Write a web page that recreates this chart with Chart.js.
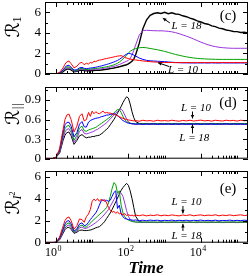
<!DOCTYPE html>
<html>
<head>
<meta charset="utf-8">
<script src="https://cdn.jsdelivr.net/npm/chart.js@4.4.0/dist/chart.umd.min.js"></script>
<style>
  html, body { margin: 0; padding: 0; background: #fff; }
  #wrap { position: relative; width: 249px; height: 276px; overflow: hidden; }
  canvas { position: absolute; left: 0; }
</style>
</head>
<body>
<div id="wrap">
  <canvas id="p1" width="249" height="87" style="top:0px"></canvas>
  <canvas id="p2" width="249" height="85" style="top:85px"></canvas>
  <canvas id="p3" width="249" height="107" style="top:169px"></canvas>
</div>
<script>
// time grid shared by all curves
const times = [0.5, 0.794, 1, 1.26, 1.58, 1.78, 2, 2.29, 2.63, 3.16,
  3.8, 4.47, 5.25, 6.03, 6.92, 7.94, 8.91, 10, 11.2, 12.6,
  14.1, 15.8, 17.8, 20, 22.4, 25.1, 28.2, 31.6, 35.5, 39.8,
  44.7, 50.1, 56.2, 63.1, 70.8, 79.4, 89.1, 100, 112, 126,
  141, 158, 200, 251, 316, 398, 501, 631, 794, 1000,
  1260, 1580, 2000, 2510, 3160, 3980, 5010, 6310, 7940, 10000,
  12600, 15800, 20000, 25100, 31600, 39800, 50100, 63100, 79400, 100000,
  126000, 158000, 200000];

// panel (c): R_1
const r1L10 = [0, 0, 0.02, 0.15, 0.6, 0.95, 1.18, 1.26, 1.0, 0.6,
  0.75, 1.05, 1.13, 0.9, 1.05, 0.95, 1.15, 1.05, 1.25, 1.2,
  1.3, 1.35, 1.38, 1.42, 1.48, 1.5, 1.55, 1.58, 1.62, 1.66,
  1.7, 1.74, 1.76, 1.78, 1.72, 1.6, 1.55, 1.5, 1.45, 1.42,
  1.38, 1.36, 1.32, 1.27, 1.23, 1.2, 1.17, 1.15, 1.13, 1.12,
  1.11, 1.12, 1.1, 1.11, 1.1, 1.12, 1.1, 1.11, 1.1, 1.12,
  1.11, 1.1, 1.12, 1.11, 1.1, 1.12, 1.11, 1.1, 1.11, 1.12,
  1.1, 1.11, 1.1];
const r1L12 = [0, 0, 0.01, 0.1, 0.4, 0.65, 0.8, 0.85, 0.65, 0.38,
  0.42, 0.6, 0.65, 0.55, 0.52, 0.55, 0.58, 0.6, 0.63, 0.66,
  0.7, 0.74, 0.78, 0.83, 0.88, 0.93, 0.98, 1.04, 1.1, 1.17,
  1.24, 1.32, 1.42, 1.54, 1.68, 1.82, 1.93, 2.0, 1.98, 1.92,
  1.84, 1.75, 1.55, 1.42, 1.33, 1.28, 1.26, 1.24, 1.22, 1.2,
  1.17, 1.14, 1.12, 1.1, 1.09, 1.08, 1.08, 1.07, 1.08, 1.07,
  1.08, 1.07, 1.08, 1.07, 1.07, 1.08, 1.07, 1.08, 1.07, 1.07,
  1.08, 1.07, 1.07];
const r1L14 = [0, 0, 0.01, 0.08, 0.33, 0.55, 0.68, 0.7, 0.55, 0.3,
  0.35, 0.5, 0.55, 0.45, 0.44, 0.46, 0.48, 0.5, 0.52, 0.54,
  0.56, 0.58, 0.61, 0.64, 0.67, 0.7, 0.74, 0.78, 0.83, 0.89,
  0.96, 1.05, 1.16, 1.3, 1.46, 1.64, 1.84, 2.04, 2.2, 2.32,
  2.41, 2.47, 2.55, 2.58, 2.55, 2.48, 2.42, 2.36, 2.28, 2.2,
  2.1, 2.0, 1.9, 1.82, 1.74, 1.67, 1.61, 1.56, 1.52, 1.49,
  1.47, 1.45, 1.44, 1.43, 1.42, 1.42, 1.42, 1.42, 1.42, 1.42,
  1.42, 1.42, 1.42];
const r1L16 = [0, 0, 0.01, 0.07, 0.28, 0.47, 0.58, 0.6, 0.47, 0.26,
  0.3, 0.43, 0.47, 0.4, 0.39, 0.4, 0.41, 0.42, 0.43, 0.45,
  0.46, 0.48, 0.5, 0.53, 0.56, 0.59, 0.62, 0.66, 0.7, 0.74,
  0.79, 0.85, 0.92, 1.0, 1.08, 1.16, 1.24, 1.32, 1.5, 1.85,
  2.3, 2.8, 3.8, 4.22, 4.25, 4.23, 4.21, 4.2, 4.2, 4.18,
  4.15, 4.1, 4.02, 3.92, 3.8, 3.68, 3.55, 3.4, 3.25, 3.1,
  2.96, 2.84, 2.74, 2.66, 2.6, 2.56, 2.53, 2.51, 2.5, 2.5,
  2.5, 2.5, 2.5];
const r1L18 = [0, 0, 0.01, 0.05, 0.22, 0.38, 0.47, 0.5, 0.4, 0.22,
  0.25, 0.35, 0.38, 0.33, 0.31, 0.31, 0.32, 0.33, 0.34, 0.35,
  0.36, 0.37, 0.39, 0.41, 0.43, 0.46, 0.49, 0.52, 0.55, 0.58,
  0.62, 0.66, 0.7, 0.75, 0.8, 0.85, 0.9, 0.98, 1.1, 1.25,
  1.45, 1.85, 3.0, 4.4, 5.25, 5.7, 5.88, 5.95, 5.88, 6.0,
  5.86, 5.95, 5.83, 5.8, 5.66, 5.57, 5.43, 5.32, 5.16, 5.07,
  4.91, 4.84, 4.68, 4.6, 4.46, 4.4, 4.28, 4.22, 4.13, 4.12,
  4.03, 4.06, 4.0];

// panel (d): R_||
const r2L10 = [0, 0, 0.02, 0.15, 0.45, 0.6, 0.67, 0.685, 0.6, 0.41,
  0.5, 0.65, 0.69, 0.58, 0.6, 0.71, 0.65, 0.73, 0.69, 0.72,
  0.7, 0.69, 0.71, 0.73, 0.7, 0.71, 0.7, 0.7, 0.69, 0.68,
  0.67, 0.66, 0.645, 0.63, 0.62, 0.61, 0.6, 0.595, 0.59, 0.585,
  0.58, 0.585, 0.575, 0.59, 0.58, 0.585, 0.575, 0.59, 0.58, 0.585,
  0.578, 0.59, 0.582, 0.575, 0.588, 0.58, 0.59, 0.578, 0.585, 0.592,
  0.58, 0.587, 0.576, 0.59, 0.583, 0.578, 0.59, 0.582, 0.588, 0.577,
  0.59, 0.583, 0.586];
const r2L12 = [0, 0, 0.02, 0.12, 0.4, 0.52, 0.555, 0.56, 0.5, 0.335,
  0.4, 0.53, 0.57, 0.49, 0.485, 0.56, 0.585, 0.6, 0.61, 0.62,
  0.625, 0.63, 0.645, 0.65, 0.66, 0.67, 0.67, 0.68, 0.685, 0.69,
  0.68, 0.66, 0.64, 0.61, 0.585, 0.57, 0.555, 0.545, 0.54, 0.535,
  0.535, 0.53, 0.535, 0.528, 0.533, 0.53, 0.536, 0.528, 0.532, 0.53,
  0.535, 0.527, 0.533, 0.53, 0.536, 0.529, 0.532, 0.53, 0.535, 0.528,
  0.533, 0.53, 0.535, 0.528, 0.532, 0.53, 0.536, 0.529, 0.533, 0.53,
  0.534, 0.529, 0.532];
const r2L14 = [0, 0, 0.02, 0.1, 0.36, 0.46, 0.5, 0.51, 0.45, 0.28,
  0.36, 0.47, 0.5, 0.43, 0.42, 0.44, 0.45, 0.46, 0.47, 0.48,
  0.5, 0.52, 0.54, 0.56, 0.58, 0.6, 0.62, 0.64, 0.67, 0.7,
  0.73, 0.755, 0.75, 0.71, 0.65, 0.6, 0.57, 0.555, 0.545, 0.54,
  0.538, 0.536, 0.535, 0.537, 0.534, 0.536, 0.535, 0.537, 0.534, 0.536,
  0.535, 0.537, 0.534, 0.536, 0.535, 0.537, 0.534, 0.536, 0.535, 0.537,
  0.534, 0.536, 0.535, 0.537, 0.534, 0.536, 0.535, 0.537, 0.534, 0.536,
  0.535, 0.537, 0.535];
const r2L16 = [0, 0, 0.02, 0.09, 0.32, 0.41, 0.45, 0.46, 0.4, 0.25,
  0.31, 0.42, 0.45, 0.39, 0.38, 0.39, 0.4, 0.41, 0.42, 0.44,
  0.45, 0.47, 0.49, 0.51, 0.53, 0.55, 0.58, 0.61, 0.64, 0.67,
  0.7, 0.73, 0.755, 0.76, 0.73, 0.67, 0.61, 0.57, 0.545, 0.535,
  0.53, 0.528, 0.526, 0.525, 0.526, 0.525, 0.524, 0.525, 0.526, 0.525,
  0.524, 0.525, 0.526, 0.525, 0.524, 0.525, 0.526, 0.525, 0.524, 0.525,
  0.526, 0.525, 0.524, 0.525, 0.526, 0.525, 0.524, 0.525, 0.526, 0.525,
  0.524, 0.525, 0.525];
const r2L18 = [0, 0, 0.02, 0.08, 0.28, 0.36, 0.4, 0.41, 0.35, 0.22,
  0.28, 0.35, 0.37, 0.34, 0.32, 0.33, 0.33, 0.34, 0.34, 0.35,
  0.355, 0.36, 0.38, 0.4, 0.43, 0.45, 0.48, 0.52, 0.56, 0.6,
  0.65, 0.7, 0.75, 0.8, 0.86, 0.91, 0.95, 0.93, 0.84, 0.72,
  0.63, 0.57, 0.54, 0.535, 0.537, 0.534, 0.536, 0.533, 0.537, 0.535,
  0.534, 0.537, 0.535, 0.533, 0.536, 0.535, 0.537, 0.534, 0.536, 0.535,
  0.533, 0.536, 0.535, 0.537, 0.534, 0.536, 0.535, 0.533, 0.536, 0.535,
  0.537, 0.534, 0.536];

// panel (e): R_I2
const r3L10 = [0, 0, 0.05, 0.5, 1.5, 2.0, 2.25, 2.33, 2.0, 1.22,
  1.55, 2.15, 2.1, 1.85, 2.35, 2.6, 3.0, 3.75, 3.95, 3.8,
  4.0, 3.75, 3.95, 3.8, 3.9, 3.6, 3.2, 2.95, 2.75, 2.85,
  2.65, 2.8, 2.6, 2.7, 2.5, 2.65, 2.45, 2.55, 2.45, 2.5,
  2.42, 2.5, 2.45, 2.52, 2.43, 2.5, 2.46, 2.53, 2.44, 2.5,
  2.45, 2.52, 2.47, 2.43, 2.51, 2.46, 2.53, 2.44, 2.49, 2.52,
  2.45, 2.5, 2.47, 2.53, 2.44, 2.5, 2.46, 2.52, 2.45, 2.49,
  2.53, 2.46, 2.5];
const r3L12 = [0, 0, 0.04, 0.4, 1.25, 1.7, 1.95, 2.0, 1.7, 1.05,
  1.25, 1.7, 1.8, 1.55, 1.6, 1.85, 2.1, 2.3, 2.5, 2.7,
  3.0, 3.4, 3.8, 3.9, 3.75, 3.85, 3.75, 3.85, 4.2, 4.55,
  4.7, 3.1, 3.4, 2.6, 2.35, 2.2, 2.15, 2.1, 2.08, 2.05,
  2.03, 2.06, 2.0, 2.04, 1.99, 2.05, 2.01, 2.04, 1.98, 2.03,
  2.0, 2.05, 1.99, 2.03, 2.0, 2.04, 1.98, 2.03, 2.01, 2.05,
  1.99, 2.03, 2.0, 2.04, 1.98, 2.02, 2.0, 2.05, 1.99, 2.03,
  2.0, 2.04, 2.01];
const r3L14 = [0, 0, 0.04, 0.35, 1.1, 1.5, 1.72, 1.8, 1.5, 0.95,
  1.15, 1.5, 1.6, 1.42, 1.42, 1.6, 1.78, 1.95, 2.1, 2.25,
  2.4, 2.55, 2.7, 2.85, 3.0, 3.2, 3.6, 4.2, 4.9, 5.45,
  5.3, 4.5, 4.7, 3.4, 2.7, 2.35, 2.15, 2.05, 1.98, 1.93,
  1.9, 1.88, 1.87, 1.86, 1.88, 1.85, 1.87, 1.86, 1.88, 1.85,
  1.87, 1.86, 1.88, 1.85, 1.87, 1.86, 1.87, 1.85, 1.88, 1.86,
  1.87, 1.85, 1.88, 1.86, 1.87, 1.85, 1.87, 1.86, 1.88, 1.86,
  1.87, 1.85, 1.87];
const r3L16 = [0, 0, 0.03, 0.3, 0.95, 1.32, 1.52, 1.6, 1.35, 0.9,
  1.05, 1.35, 1.42, 1.3, 1.3, 1.4, 1.5, 1.6, 1.7, 1.82,
  1.95, 2.1, 2.25, 2.42, 2.6, 2.8, 3.0, 3.3, 3.6, 3.9,
  4.2, 4.45, 4.55, 4.5, 4.2, 3.6, 2.9, 2.4, 2.1, 1.95,
  1.9, 1.87, 1.85, 1.84, 1.83, 1.84, 1.83, 1.82, 1.84, 1.83,
  1.82, 1.84, 1.83, 1.84, 1.82, 1.83, 1.84, 1.83, 1.82, 1.84,
  1.83, 1.82, 1.84, 1.83, 1.84, 1.82, 1.83, 1.84, 1.83, 1.82,
  1.84, 1.83, 1.83];
const r3L18 = [0, 0, 0.03, 0.25, 0.85, 1.18, 1.35, 1.4, 1.2, 0.85,
  0.95, 1.12, 1.15, 1.1, 1.1, 1.12, 1.15, 1.2, 1.27, 1.35,
  1.4, 1.45, 1.6, 1.75, 1.95, 2.2, 2.45, 2.7, 3.0, 3.35,
  3.7, 4.05, 4.4, 4.75, 5.0, 5.2, 5.38, 5.2, 4.7, 4.0,
  3.2, 2.4, 1.9, 1.85, 1.84, 1.86, 1.85, 1.84, 1.86, 1.85,
  1.84, 1.86, 1.85, 1.84, 1.86, 1.85, 1.85, 1.84, 1.86, 1.85,
  1.84, 1.86, 1.85, 1.84, 1.86, 1.85, 1.84, 1.86, 1.85, 1.84,
  1.86, 1.85, 1.85];

// axis ticks
const xMajorTicks = [1, 100, 10000];
const xMinorTicks = [2, 3, 4, 5, 6, 7, 8, 9, 10,
  200, 300, 400, 500, 600, 700, 800, 900, 1000,
  20000, 30000, 40000, 50000, 60000, 70000, 80000, 90000, 100000];
const xTickExponents = ['0', '2', '4'];
const y1Ticks = [0, 2, 4, 6], y1Minor = [1, 3, 5];
const y2Ticks = [0, 0.3, 0.6, 0.9], y2Minor = [0.15, 0.45, 0.75, 1.05];
const y3Ticks = [0, 2, 4, 6], y3Minor = [1, 3, 5];

const colors = ['#ff0000', '#0000ff', '#00a000', '#9933dd', '#000000'];
const SERIF = '"Liberation Serif", "Times New Roman", serif';

function arrow(ctx, x1, y1, x2, y2) {
  const a = Math.atan2(y2 - y1, x2 - x1);
  ctx.beginPath();
  ctx.moveTo(x1, y1);
  ctx.lineTo(x2, y2);
  ctx.stroke();
  ctx.beginPath();
  ctx.moveTo(x2, y2);
  ctx.lineTo(x2 - 4 * Math.cos(a - 0.45), y2 - 4 * Math.sin(a - 0.45));
  ctx.lineTo(x2 - 4 * Math.cos(a + 0.45), y2 - 4 * Math.sin(a + 0.45));
  ctx.closePath();
  ctx.fill();
}

function drawTitle(ctx, x, y, sub, subItalic, sup) {
  ctx.save();
  ctx.translate(x, y);
  ctx.rotate(-Math.PI / 2);
  ctx.textBaseline = 'alphabetic';
  ctx.textAlign = 'left';
  const fR = '19px "DejaVu Serif", "DejaVu Sans", serif';
  const fS = (subItalic ? 'italic ' : '') + '12px ' + SERIF;
  ctx.font = fR;
  const wR = ctx.measureText('ℛ').width;
  ctx.font = fS;
  const wS = ctx.measureText(sub).width;
  let cx = -(wR + wS + (sup ? 4 : 0)) / 2;
  ctx.font = fR;
  ctx.fillText('ℛ', cx, 0);
  cx += wR;
  ctx.font = fS;
  ctx.fillText(sub, cx, 2);
  if (sup) {
    ctx.font = '8px ' + SERIF;
    ctx.fillText(sup, cx + wS, -4);
  }
  ctx.restore();
}

function framePlugin(cfg) {
  return {
    id: 'frame',
    afterDraw(chart) {
      const { ctx, chartArea: a, scales: { x, y } } = chart;
      ctx.save();
      ctx.strokeStyle = '#000';
      ctx.fillStyle = '#000';
      ctx.lineWidth = 1;
      ctx.strokeRect(a.left + 0.5, a.top + 0.5, a.right - a.left - 1, a.bottom - a.top - 1);

      ctx.beginPath();
      const xt = (list, len) => list.forEach(v => {
        const px = Math.round(x.getPixelForValue(v)) + 0.5;
        ctx.moveTo(px, a.bottom); ctx.lineTo(px, a.bottom - len);
        ctx.moveTo(px, a.top); ctx.lineTo(px, a.top + len);
      });
      xt(xMajorTicks, 5);
      xt(xMinorTicks, 3);
      const yt = (list, len) => list.forEach(v => {
        const py = Math.round(y.getPixelForValue(v)) + 0.5;
        ctx.moveTo(a.left, py); ctx.lineTo(a.left + len, py);
        ctx.moveTo(a.right, py); ctx.lineTo(a.right - len, py);
      });
      yt(cfg.yTicks, 5);
      yt(cfg.yMinor, 3);
      ctx.stroke();

      ctx.font = '13px ' + SERIF;
      ctx.textAlign = 'right';
      ctx.textBaseline = 'middle';
      cfg.yTicks.forEach(v => ctx.fillText(String(v), a.left - 4, y.getPixelForValue(v)));

      drawTitle(ctx, 19, a.top + cfg.titleDy, cfg.sub, cfg.subItalic, cfg.sup);

      ctx.font = '15px ' + SERIF;
      ctx.textAlign = 'center';
      ctx.fillText(cfg.tag, a.right - 20, a.top + cfg.tagDy);

      ctx.font = 'italic 11px ' + SERIF;
      cfg.notes.forEach(n => {
        ctx.fillText(n.text, x.getPixelForValue(n.t), y.getPixelForValue(n.v));
        arrow(ctx, x.getPixelForValue(n.from[0]), y.getPixelForValue(n.from[1]),
          x.getPixelForValue(n.to[0]), y.getPixelForValue(n.to[1]));
      });

      if (cfg.xLabels) {
        xMajorTicks.forEach((v, i) => {
          const px = x.getPixelForValue(v);
          ctx.font = '12px ' + SERIF;
          ctx.textAlign = 'right';
          ctx.textBaseline = 'alphabetic';
          ctx.fillText('10', px + 1, a.bottom + 13.5);
          ctx.font = '8px ' + SERIF;
          ctx.textAlign = 'left';
          ctx.fillText(xTickExponents[i], px + 1.5, a.bottom + 8);
        });
        ctx.font = 'bold italic 17px ' + SERIF;
        ctx.textAlign = 'center';
        ctx.fillText('Time', 146, a.bottom + 30.5);
      }
      ctx.restore();
    }
  };
}

function makePanel(id, yMax, series, padding, cfg) {
  new Chart(document.getElementById(id), {
    type: 'line',
    data: {
      datasets: series.map((vals, i) => ({
        data: times.map((t, k) => ({ x: t, y: vals[k] })),
        borderColor: colors[i],
        borderWidth: i === 4 && id === 'p1' ? 1.4 : 1,
        pointRadius: 0,
        tension: 0,
        fill: false
      }))
    },
    options: {
      responsive: false,
      animation: false,
      events: [],
      layout: { padding },
      scales: {
        x: { type: 'logarithmic', min: 0.5, max: 2e5, display: false },
        y: { type: 'linear', min: 0, max: yMax, display: false }
      },
      plugins: { legend: { display: false }, tooltip: { enabled: false } }
    },
    plugins: [framePlugin(cfg)]
  });
}

makePanel('p1', 7, [r1L10, r1L12, r1L14, r1L16, r1L18],
  { left: 45, right: 1, top: 2, bottom: 13 },
  { yTicks: y1Ticks, yMinor: y1Minor, sub: '1', subItalic: false, titleDy: 25,
    tag: '(c)', tagDy: 14.5,
    notes: [
      { text: 'L = 18', t: 4000, v: 4.67, from: [1400, 4.96], to: [890, 5.44] },
      { text: 'L = 10', t: 3200, v: 0.39, from: [1320, 0.73], to: [655, 1.1] }
    ] });

makePanel('p2', 1.1, [r2L10, r2L12, r2L14, r2L16, r2L18],
  { left: 45, right: 1, top: 2, bottom: 11.3 },
  { yTicks: y2Ticks, yMinor: y2Minor, sub: '||', subItalic: true, titleDy: 27,
    tag: '(d)', tagDy: 16,
    notes: [
      { text: 'L = 10', t: 7330, v: 0.77, from: [5870, 0.724], to: [5870, 0.617] },
      { text: 'L = 18', t: 6600, v: 0.31, from: [5870, 0.387], to: [5870, 0.525] }
    ] });

makePanel('p3', 6.5, [r3L10, r3L12, r3L14, r3L16, r3L18],
  { left: 45, right: 1, top: 2, bottom: 33.3 },
  { yTicks: y3Ticks, yMinor: y3Minor, sub: 'I', subItalic: true, sup: '2', titleDy: 32,
    tag: '(e)', tagDy: 18, xLabels: true,
    notes: [
      { text: 'L = 10', t: 4010, v: 3.64, from: [3200, 3.33], to: [3200, 2.65] },
      { text: 'L = 18', t: 4010, v: 0.61, from: [3200, 1.06], to: [3200, 1.7] }
    ] });
</script>
</body>
</html>
